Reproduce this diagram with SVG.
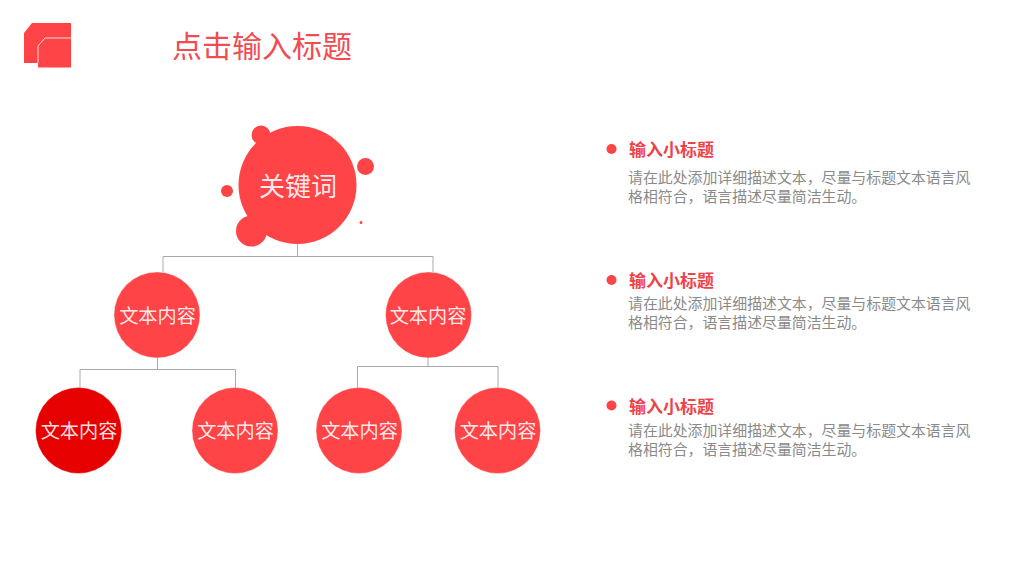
<svg xmlns="http://www.w3.org/2000/svg" width="1024" height="576" viewBox="0 0 1024 576">
<style>
text{font-family:"Noto Sans CJK SC","Noto Sans",sans-serif}
.n{fill:#ff4447}
.d{fill:#e60000}
.c{stroke:#fff;stroke-opacity:.35;stroke-width:1}
.l{fill:#fff;font-size:19.2px;text-anchor:middle;fill-opacity:.9}
.h{fill:#ee4249;font-size:17px;font-weight:700}
.b{fill:#8a8a8a;font-size:14.9px}
.conn{fill:none;stroke:#aaa;stroke-width:1}
</style>
<rect width="1024" height="576" fill="#fff"/>
<g id="logo">
<path d="M24 33L32 23H71V63H24Z" fill="#ff4447"/>
<path d="M38 46L45 38H71V67.500H38Z" fill="#ff4447"/>
<path d="M38 63V46L45 38H71" fill="none" stroke="#ffd8d8" stroke-width="1"/>
</g>
<text id="title" x="172" y="57" font-size="30" fill="#f04c52">点击输入标题</text>
<g id="connectors" class="conn">
<path d="M163 272V256.500H433V272M297.500 244V256.500"/>
<path d="M80 388V369.500H235.500V388M157.500 357V369.500"/>
<path d="M357.500 388V366.500H498V388M428 357V366.500"/>
</g>
<g id="root">
<circle class="n" cx="261" cy="135" r="9.500"/>
<circle class="n" cx="365.500" cy="166.500" r="8.500"/>
<circle class="n" cx="227" cy="191" r="6"/>
<circle class="n" cx="251.500" cy="231" r="15.500"/>
<circle class="n" cx="361" cy="222.500" r="1.500"/>
<circle class="n" cx="297.500" cy="185" r="59"/>
<text x="298" y="196" font-size="26" fill="#fff" fill-opacity=".9" text-anchor="middle">关键词</text>
</g>
<g id="mid-left"><circle class="n c" cx="157" cy="315" r="43"/><text class="l" x="157.500" y="322.500">文本内容</text></g>
<g id="mid-right"><circle class="n c" cx="428.500" cy="315" r="43"/><text class="l" x="428" y="322.500">文本内容</text></g>
<g id="leaf-1"><circle class="d c" cx="78.500" cy="430.500" r="43"/><text class="l" x="79" y="437.500">文本内容</text></g>
<g id="leaf-2"><circle class="n c" cx="235" cy="430.500" r="43"/><text class="l" x="235.500" y="437.500">文本内容</text></g>
<g id="leaf-3"><circle class="n c" cx="359" cy="430.500" r="43"/><text class="l" x="359.500" y="437.500">文本内容</text></g>
<g id="leaf-4"><circle class="n c" cx="497.500" cy="430.500" r="43"/><text class="l" x="498" y="437.500">文本内容</text></g>
<g id="item-1">
<circle class="n" cx="611.500" cy="149" r="5"/>
<text class="h" x="629" y="156">输入小标题</text>
<text class="b"><tspan x="628" y="182.500">请在此处添加详细描述文本，尽量与标题文本语言风</tspan><tspan x="628" y="201.500">格相符合，语言描述尽量简洁生动。</tspan></text>
</g>
<g id="item-2">
<circle class="n" cx="611.500" cy="280" r="5"/>
<text class="h" x="629" y="287">输入小标题</text>
<text class="b"><tspan x="628" y="308.500">请在此处添加详细描述文本，尽量与标题文本语言风</tspan><tspan x="628" y="327.500">格相符合，语言描述尽量简洁生动。</tspan></text>
</g>
<g id="item-3">
<circle class="n" cx="611.500" cy="405.500" r="5"/>
<text class="h" x="629" y="413">输入小标题</text>
<text class="b"><tspan x="628" y="436">请在此处添加详细描述文本，尽量与标题文本语言风</tspan><tspan x="628" y="455">格相符合，语言描述尽量简洁生动。</tspan></text>
</g>
</svg>
